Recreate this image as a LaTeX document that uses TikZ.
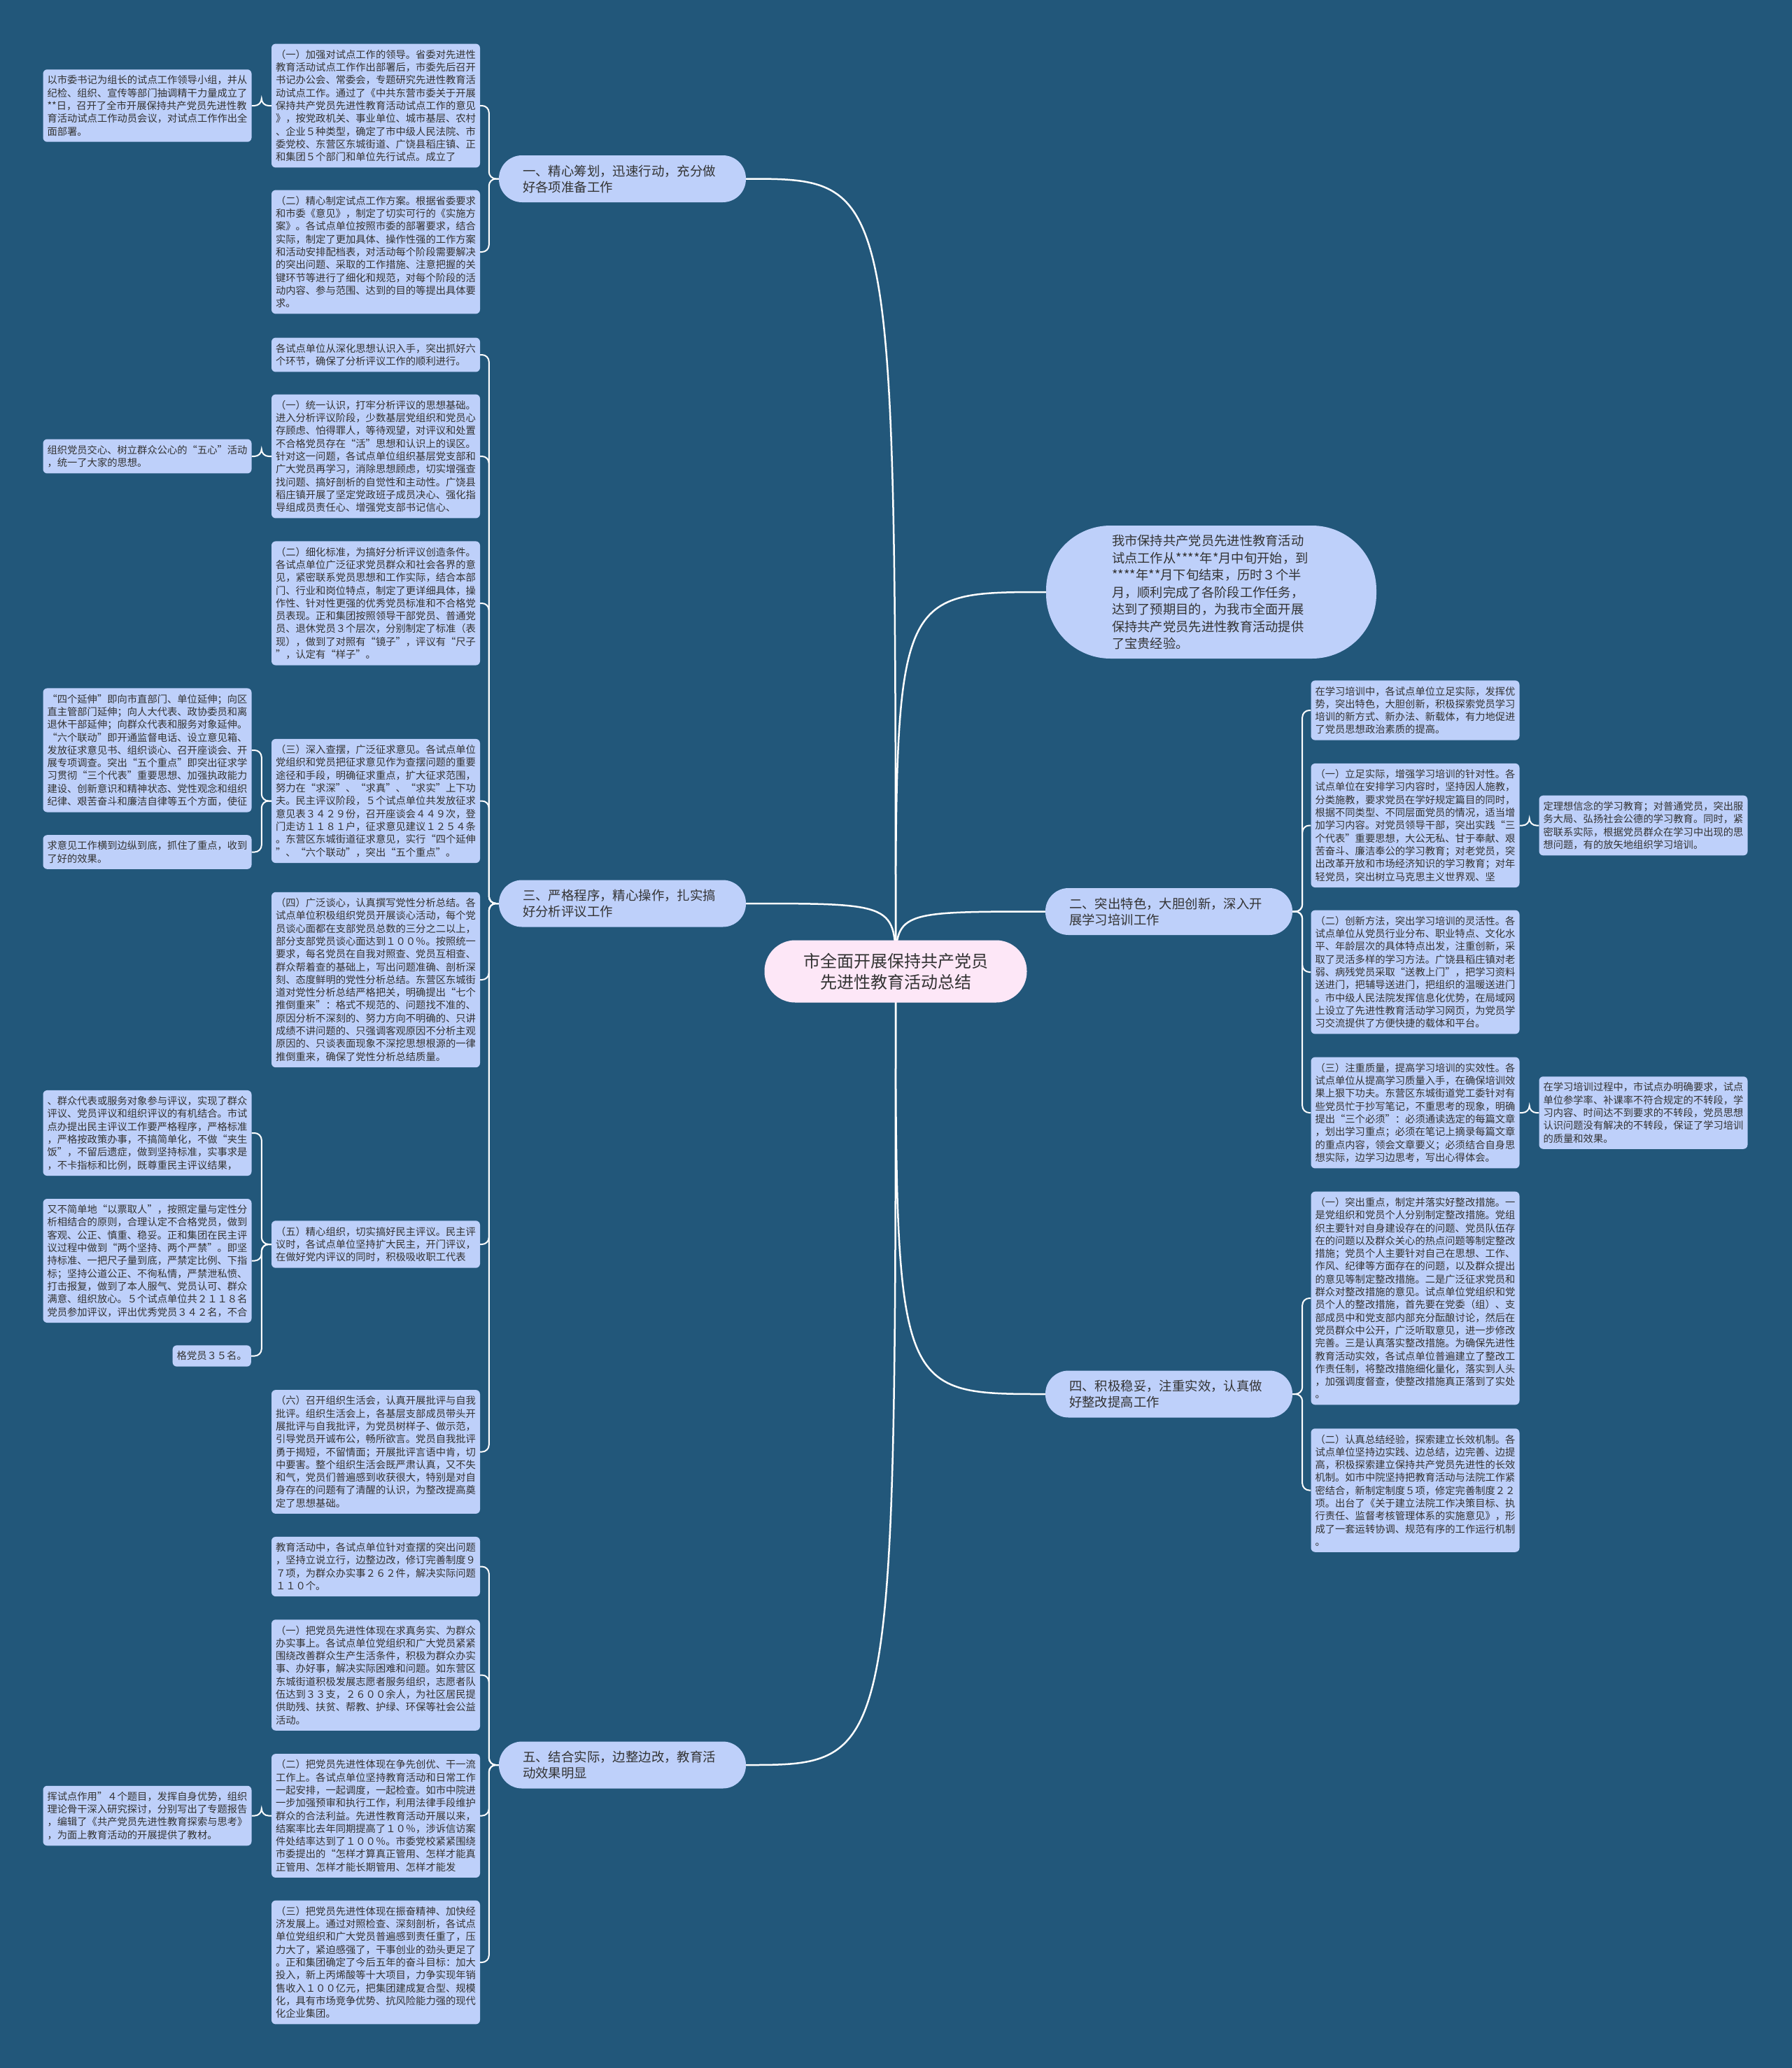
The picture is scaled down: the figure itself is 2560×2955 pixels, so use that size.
\documentclass[tikz,border=0pt]{standalone}
\usepackage{fontspec}
\setmainfont{Noto Sans CJK SC}
\usepackage{xcolor}
\usepackage{tikz}

\definecolor{bgblue}{HTML}{22577A}
\definecolor{leafblue}{HTML}{BED0FA}
\definecolor{rootpink}{HTML}{FDE7F7}
\definecolor{inkgray}{HTML}{333333}

\pgfdeclarelayer{back}
\pgfdeclarelayer{links}
\pgfsetlayers{back,links,main}

\begin{document}
\begin{tikzpicture}[x=1pt, y=-1pt,
  root/.style={fill=rootpink, rounded corners=44pt, minimum width=375pt, minimum height=89pt,
    align=center, text=inkgray, font=\fontsize{24}{30}\selectfont},
  topic/.style={fill=leafblue, rounded corners=33pt, text width=285pt, inner xsep=34pt,
    inner ysep=12pt, minimum height=67pt, align=left, text=inkgray, font=\fontsize{18.4}{23}\selectfont},
  intro/.style={fill=leafblue, rounded corners=92pt, text width=284pt, inner xsep=94pt,
    minimum height=190pt, align=left, text=inkgray, font=\fontsize{18.3}{24.5}\selectfont},
  leaf/.style={fill=leafblue, rounded corners=6pt, text width=286pt, inner xsep=6pt,
    inner ysep=8.5pt, align=left, text=inkgray, font=\fontsize{14.3}{18.3}\selectfont},
  trunk/.style={draw=white, line width=2.5pt},
  twig/.style={draw=white, line width=2pt, rounded corners=10pt}]

\useasboundingbox (0,0) rectangle (2560,2955);
\begin{pgfonlayer}{back}
\fill[bgblue] (-10,-10) rectangle (2570,2965);
\end{pgfonlayer}

% centre and main topics
\node[root] (root) at (1280,1388) {市全面开展保持共产党员\\先进性教育活动总结};
\node[topic] (b1) at (889.5,255.5) {一、精心筹划，迅速行动，充分做\\好各项准备工作};
\node[topic] (b3) at (889.5,1291) {三、严格程序，精心操作，扎实搞\\好分析评议工作};
\node[topic] (b5) at (889.5,2522) {五、结合实际，边整边改，教育活\\动效果明显};
\node[intro] (n0) at (1731,846) {我市保持共产党员先进性教育活动\\
试点工作从****年*月中旬开始，到\\
{}****年**月下旬结束，历时３个半\\
月，顺利完成了各阶段工作任务，\\
达到了预期目的，为我市全面开展\\
保持共产党员先进性教育活动提供\\
了宝贵经验。};
\node[topic] (b2) at (1670.5,1302.5) {二、突出特色，大胆创新，深入开\\展学习培训工作};
\node[topic] (b4) at (1670.5,1992) {四、积极稳妥，注重实效，认真做\\好整改提高工作};

% topic one
\node[leaf] (k11) at (537,151) {（一）加强对试点工作的领导。省委对先进性\\
教育活动试点工作作出部署后，市委先后召开\\
书记办公会、常委会，专题研究先进性教育活\\
动试点工作。通过了《中共东营市委关于开展\\
保持共产党员先进性教育活动试点工作的意见\\
》，按党政机关、事业单位、城市基层、农村\\
、企业５种类型，确定了市中级人民法院、市\\
委党校、东营区东城街道、广饶县稻庄镇、正\\
和集团５个部门和单位先行试点。成立了};
\node[leaf] (k111) at (210.5,151) {以市委书记为组长的试点工作领导小组，并从\\
纪检、组织、宣传等部门抽调精干力量成立了\\
{}**日，召开了全市开展保持共产党员先进性教\\
育活动试点工作动员会议，对试点工作作出全\\
面部署。};
\node[leaf] (k12) at (537,360) {（二）精心制定试点工作方案。根据省委要求\\
和市委《意见》，制定了切实可行的《实施方\\
案》。各试点单位按照市委的部署要求，结合\\
实际，制定了更加具体、操作性强的工作方案\\
和活动安排配档表，对活动每个阶段需要解决\\
的突出问题、采取的工作措施、注意把握的关\\
键环节等进行了细化和规范，对每个阶段的活\\
动内容、参与范围、达到的目的等提出具体要\\
求。};

% topic three
\node[leaf] (k30) at (537,507) {各试点单位从深化思想认识入手，突出抓好六\\
个环节，确保了分析评议工作的顺利进行。};
\node[leaf] (k31) at (537,652) {（一）统一认识，打牢分析评议的思想基础。\\
进入分析评议阶段，少数基层党组织和党员心\\
存顾虑、怕得罪人，等待观望，对评议和处置\\
不合格党员存在“活”思想和认识上的误区。\\
针对这一问题，各试点单位组织基层党支部和\\
广大党员再学习，消除思想顾虑，切实增强查\\
找问题、搞好剖析的自觉性和主动性。广饶县\\
稻庄镇开展了坚定党政班子成员决心、强化指\\
导组成员责任心、增强党支部书记信心、};
\node[leaf] (k311) at (210.5,652) {组织党员交心、树立群众公心的“五心”活动\\
，统一了大家的思想。};
\node[leaf] (k32) at (537,862) {（二）细化标准，为搞好分析评议创造条件。\\
各试点单位广泛征求党员群众和社会各界的意\\
见，紧密联系党员思想和工作实际，结合本部\\
门、行业和岗位特点，制定了更详细具体，操\\
作性、针对性更强的优秀党员标准和不合格党\\
员表现。正和集团按照领导干部党员、普通党\\
员、退休党员３个层次，分别制定了标准（表\\
现），做到了对照有“镜子”，评议有“尺子\\
”，认定有“样子”。};
\node[leaf] (k33) at (537,1144.5) {（三）深入查摆，广泛征求意见。各试点单位\\
党组织和党员把征求意见作为查摆问题的重要\\
途径和手段，明确征求重点，扩大征求范围，\\
努力在“求深”、“求真”、“求实”上下功\\
夫。民主评议阶段，５个试点单位共发放征求\\
意见表３４２９份，召开座谈会４４９次，登\\
门走访１１８１户，征求意见建议１２５４条\\
。东营区东城街道征求意见，实行“四个延伸\\
”、“六个联动”，突出“五个重点”。};
\node[leaf] (k331) at (210.5,1072) {“四个延伸”即向市直部门、单位延伸；向区\\
直主管部门延伸；向人大代表、政协委员和离\\
退休干部延伸；向群众代表和服务对象延伸。\\
“六个联动”即开通监督电话、设立意见箱、\\
发放征求意见书、组织谈心、召开座谈会、开\\
展专项调查。突出“五个重点”即突出征求学\\
习贯彻“三个代表”重要思想、加强执政能力\\
建设、创新意识和精神状态、党性观念和组织\\
纪律、艰苦奋斗和廉洁自律等五个方面，使征};
\node[leaf] (k332) at (210.5,1217.5) {求意见工作横到边纵到底，抓住了重点，收到\\
了好的效果。};
\node[leaf] (k34) at (537,1400) {（四）广泛谈心，认真撰写党性分析总结。各\\
试点单位积极组织党员开展谈心活动，每个党\\
员谈心面都在支部党员总数的三分之二以上，\\
部分支部党员谈心面达到１００％。按照统一\\
要求，每名党员在自我对照查、党员互相查、\\
群众帮着查的基础上，写出问题准确、剖析深\\
刻、态度鲜明的党性分析总结。东营区东城街\\
道对党性分析总结严格把关，明确提出“七个\\
推倒重来”：格式不规范的、问题找不准的、\\
原因分析不深刻的、努力方向不明确的、只讲\\
成绩不讲问题的、只强调客观原因不分析主观\\
原因的、只谈表面现象不深挖思想根源的一律\\
推倒重来，确保了党性分析总结质量。};
\node[leaf] (k35) at (537,1778) {（五）精心组织，切实搞好民主评议。民主评\\
议时，各试点单位坚持扩大民主，开门评议，\\
在做好党内评议的同时，积极吸收职工代表};
\node[leaf] (k351) at (210.5,1619) {、群众代表或服务对象参与评议，实现了群众\\
评议、党员评议和组织评议的有机结合。市试\\
点办提出民主评议工作要严格程序，严格标准\\
，严格按政策办事，不搞简单化，不做“夹生\\
饭”，不留后遗症，做到坚持标准，实事求是\\
，不卡指标和比例，既尊重民主评议结果，};
\node[leaf] (k352) at (210.5,1801.5) {又不简单地“以票取人”，按照定量与定性分\\
析相结合的原则，合理认定不合格党员，做到\\
客观、公正、慎重、稳妥。正和集团在民主评\\
议过程中做到“两个坚持、两个严禁”。即坚\\
持标准、一把尺子量到底，严禁定比例、下指\\
标；坚持公道公正、不徇私情，严禁泄私愤、\\
打击报复，做到了本人服气、党员认可、群众\\
满意、组织放心。５个试点单位共２１１８名\\
党员参加评议，评出优秀党员３４２名，不合};
\node[leaf, text width=, anchor=east] (k353) at (359,1937.5) {格党员３５名。};
\node[leaf] (k36) at (537,2074.5) {（六）召开组织生活会，认真开展批评与自我\\
批评。组织生活会上，各基层支部成员带头开\\
展批评与自我批评，为党员树样子、做示范，\\
引导党员开诚布公，畅所欲言。党员自我批评\\
勇于揭短，不留情面；开展批评言语中肯，切\\
中要害。整个组织生活会既严肃认真，又不失\\
和气，党员们普遍感到收获很大，特别是对自\\
身存在的问题有了清醒的认识，为整改提高奠\\
定了思想基础。};

% topic five
\node[leaf] (k50) at (537,2238.5) {教育活动中，各试点单位针对查摆的突出问题\\
，坚持立说立行，边整边改，修订完善制度９\\
７项，为群众办实事２６２件，解决实际问题\\
１１０个。};
\node[leaf] (k51) at (537,2393.5) {（一）把党员先进性体现在求真务实、为群众\\
办实事上。各试点单位党组织和广大党员紧紧\\
围绕改善群众生产生活条件，积极为群众办实\\
事、办好事，解决实际困难和问题。如东营区\\
东城街道积极发展志愿者服务组织，志愿者队\\
伍达到３３支，２６００余人，为社区居民提\\
供助残、扶贫、帮教、护绿、环保等社会公益\\
活动。};
\node[leaf] (k52) at (537,2594.5) {（二）把党员先进性体现在争先创优、干一流\\
工作上。各试点单位坚持教育活动和日常工作\\
一起安排，一起调度，一起检查。如市中院进\\
一步加强预审和执行工作，利用法律手段维护\\
群众的合法利益。先进性教育活动开展以来，\\
结案率比去年同期提高了１０％，涉诉信访案\\
件处结率达到了１００％。市委党校紧紧围绕\\
市委提出的“怎样才算真正管用、怎样才能真\\
正管用、怎样才能长期管用、怎样才能发};
\node[leaf] (k521) at (210.5,2594.5) {挥试点作用”４个题目，发挥自身优势，组织\\
理论骨干深入研究探讨，分别写出了专题报告\\
，编辑了《共产党员先进性教育探索与思考》\\
，为面上教育活动的开展提供了教材。};
\node[leaf] (k53) at (537,2804) {（三）把党员先进性体现在振奋精神、加快经\\
济发展上。通过对照检查、深刻剖析，各试点\\
单位党组织和广大党员普遍感到责任重了，压\\
力大了，紧迫感强了，干事创业的劲头更足了\\
。正和集团确定了今后五年的奋斗目标：加大\\
投入，新上丙烯酸等十大项目，力争实现年销\\
售收入１００亿元，把集团建成复合型、规模\\
化，具有市场竞争优势、抗风险能力强的现代\\
化企业集团。};

% topic two
\node[leaf] (k20) at (2022.5,1015) {在学习培训中，各试点单位立足实际，发挥优\\
势，突出特色，大胆创新，积极探索党员学习\\
培训的新方式、新办法、新载体，有力地促进\\
了党员思想政治素质的提高。};
\node[leaf] (k21) at (2022.5,1179.5) {（一）立足实际，增强学习培训的针对性。各\\
试点单位在安排学习内容时，坚持因人施教，\\
分类施教，要求党员在学好规定篇目的同时，\\
根据不同类型、不同层面党员的情况，适当增\\
加学习内容。对党员领导干部，突出实践“三\\
个代表”重要思想，大公无私、甘于奉献、艰\\
苦奋斗、廉洁奉公的学习教育；对老党员，突\\
出改革开放和市场经济知识的学习教育；对年\\
轻党员，突出树立马克思主义世界观、坚};
\node[leaf] (k211) at (2348.5,1179.5) {定理想信念的学习教育；对普通党员，突出服\\
务大局、弘扬社会公德的学习教育。同时，紧\\
密联系实际，根据党员群众在学习中出现的思\\
想问题，有的放矢地组织学习培训。};
\node[leaf] (k22) at (2022.5,1389) {（二）创新方法，突出学习培训的灵活性。各\\
试点单位从党员行业分布、职业特点、文化水\\
平、年龄层次的具体特点出发，注重创新，采\\
取了灵活多样的学习方法。广饶县稻庄镇对老\\
弱、病残党员采取“送教上门”，把学习资料\\
送进门，把辅导送进门，把组织的温暖送进门\\
。市中级人民法院发挥信息化优势，在局域网\\
上设立了先进性教育活动学习网页，为党员学\\
习交流提供了方便快捷的载体和平台。};
\node[leaf] (k23) at (2022.5,1590) {（三）注重质量，提高学习培训的实效性。各\\
试点单位从提高学习质量入手，在确保培训效\\
果上狠下功夫。东营区东城街道党工委针对有\\
些党员忙于抄写笔记，不重思考的现象，明确\\
提出“三个必须”：必须通读选定的每篇文章\\
，划出学习重点；必须在笔记上摘录每篇文章\\
的重点内容，领会文章要义；必须结合自身思\\
想实际，边学习边思考，写出心得体会。};
\node[leaf] (k231) at (2348.5,1590) {在学习培训过程中，市试点办明确要求，试点\\
单位参学率、补课率不符合规定的不转段，学\\
习内容、时间达不到要求的不转段，党员思想\\
认识问题没有解决的不转段，保证了学习培训\\
的质量和效果。};

% topic four
\node[leaf] (k41) at (2022.5,1855) {（一）突出重点，制定并落实好整改措施。一\\
是党组织和党员个人分别制定整改措施。党组\\
织主要针对自身建设存在的问题、党员队伍存\\
在的问题以及群众关心的热点问题等制定整改\\
措施；党员个人主要针对自己在思想、工作、\\
作风、纪律等方面存在的问题，以及群众提出\\
的意见等制定整改措施。二是广泛征求党员和\\
群众对整改措施的意见。试点单位党组织和党\\
员个人的整改措施，首先要在党委（组）、支\\
部成员中和党支部内部充分酝酿讨论，然后在\\
党员群众中公开，广泛听取意见，进一步修改\\
完善。三是认真落实整改措施。为确保先进性\\
教育活动实效，各试点单位普遍建立了整改工\\
作责任制，将整改措施细化量化，落实到人头\\
，加强调度督查，使整改措施真正落到了实处\\
。};
\node[leaf] (k42) at (2022.5,2129.5) {（二）认真总结经验，探索建立长效机制。各\\
试点单位坚持边实践、边总结，边完善、边提\\
高，积极探索建立保持共产党员先进性的长效\\
机制。如市中院坚持把教育活动与法院工作紧\\
密结合，新制定制度５项，修定完善制度２２\\
项。出台了《关于建立法院工作决策目标、执\\
行责任、监督考核管理体系的实施意见》，形\\
成了一套运转协调、规范有序的工作运行机制\\
。};

% connectors
\begin{pgfonlayer}{links}
\foreach \b in {b1,b3,b5}
  \draw[trunk] (root.center) .. controls (root.center |- \b.east) .. (\b.east);
\foreach \b in {n0,b2,b4}
  \draw[trunk] (root.center) .. controls (root.center |- \b.west) .. (\b.west);
\foreach \p/\k in {b1/k11,b1/k12,k11/k111,b3/k30,b3/k31,b3/k32,b3/k33,b3/k34,b3/k35,b3/k36,
    k31/k311,k33/k331,k33/k332,k35/k351,k35/k352,k35/k353,
    b5/k50,b5/k51,b5/k52,b5/k53,k52/k521}
  \draw[twig] (\p.west) -- ++(-14,0) |- (\k.east);
\foreach \p/\k in {b2/k20,b2/k21,b2/k22,b2/k23,k21/k211,k23/k231,b4/k41,b4/k42}
  \draw[twig] (\p.east) -- ++(14,0) |- (\k.west);
\end{pgfonlayer}
\end{tikzpicture}
\end{document}
